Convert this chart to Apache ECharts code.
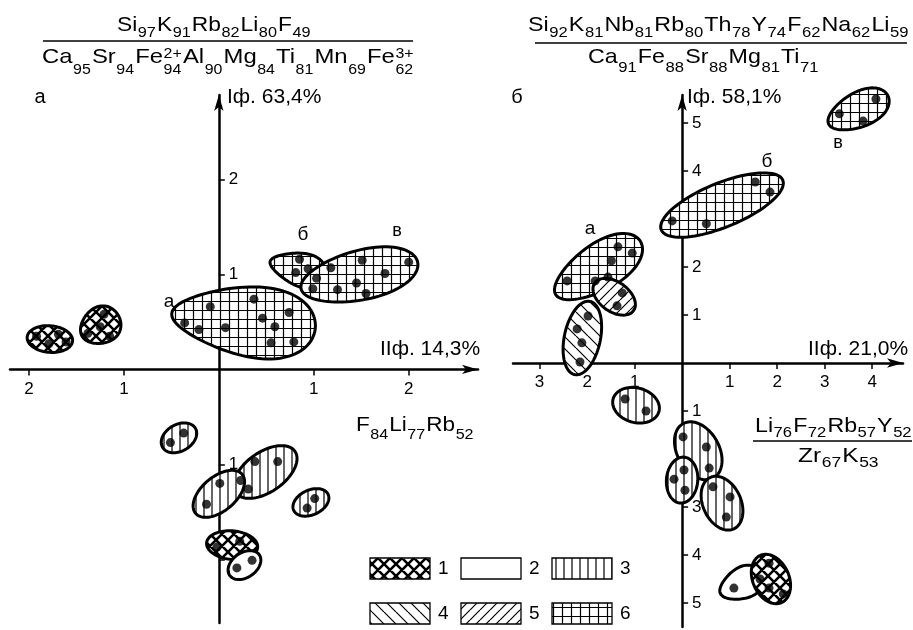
<!DOCTYPE html>
<html>
<head>
<meta charset="utf-8">
<script src="https://cdn.jsdelivr.net/npm/echarts@6/dist/echarts.min.js"></script>
<style>
  html, body { margin: 0; padding: 0; background: #fff; }
  #chart { width: 913px; height: 630px; }
</style>
</head>
<body>
<div id="chart"></div>
<script>
// группы: [центр x, центр y, полуось a, полуось b, угол°, сужение] в единицах факторов
const leftEnvelopes = [
  [-1.78, 0.32, 0.24, 0.14, -5, 0],
  [-1.25, 0.46, 0.22, 0.19, 30, 0.15],
  [0.26, 0.51, 0.76, 0.36, -6, 0.3],
  [0.83, 1.06, 0.30, 0.17, -15, 0.35],
  [1.48, 0.99, 0.63, 0.26, 13, 0.1],
  [-0.42, -0.72, 0.20, 0.14, 30, 0],
  [0.49, -1.08, 0.38, 0.21, 35, 0],
  [0.00, -1.31, 0.32, 0.18, 40, 0],
  [0.97, -1.40, 0.20, 0.13, 25, 0],
  [0.14, -1.85, 0.27, 0.15, -5, 0],
  [0.27, -2.06, 0.19, 0.13, 35, 0]
]
const leftKinds = [1, 1, 6, 6, 6, 3, 3, 3, 3, 1, 2]
const leftPoints = [
  [-1.92, 0.35], [-1.79, 0.27], [-1.69, 0.37], [-1.61, 0.29],
  [-1.38, 0.38], [-1.25, 0.45], [-1.15, 0.35], [-1.21, 0.58],
  [-0.36, 0.49], [-0.21, 0.42], [-0.09, 0.66], [0.07, 0.44], [0.37, 0.74],
  [0.46, 0.54], [0.59, 0.45], [0.74, 0.60], [0.55, 0.28], [0.79, 0.29],
  [0.85, 1.16], [0.81, 1.02], [0.94, 1.06], [1.03, 0.96],
  [1.18, 1.07], [1.51, 1.15], [1.75, 1.01], [2.00, 1.13], [1.45, 0.91],
  [1.55, 0.80], [1.25, 0.84], [0.99, 0.85],
  [-0.51, -0.77], [-0.37, -0.67],
  [0.38, -0.97], [0.62, -0.97], [0.23, -1.17], [0.31, -1.26],
  [0.01, -1.20], [-0.13, -1.42],
  [0.93, -1.46], [1.01, -1.36],
  [-0.02, -1.87], [0.22, -1.81],
  [0.19, -2.09], [0.35, -2.01]
]

const rightEnvelopes = [
  [-1.77, 1.98, 1.05, 0.48, 32, 0.15],
  [-1.43, 1.38, 0.50, 0.31, -35, 0],
  [-2.10, 0.52, 0.78, 0.38, 78, 0],
  [0.84, 3.29, 1.38, 0.46, 22, 0],
  [3.71, 5.27, 0.69, 0.36, 25, 0.15],
  [-0.97, -0.88, 0.50, 0.36, -15, 0],
  [0.34, -1.83, 0.65, 0.44, -60, 0],
  [0.00, -2.44, 0.48, 0.33, 85, 0],
  [0.84, -2.92, 0.59, 0.40, -65, 0],
  [1.24, -4.60, 0.48, 0.32, 25, 0.25],
  [1.87, -4.50, 0.54, 0.38, -65, 0]
]
const rightKinds = [6, 5, 4, 6, 6, 3, 3, 3, 3, 2, 1]
const rightPoints = [
  [-1.35, 2.42], [-1.05, 2.29], [-1.49, 2.13], [-2.42, 1.71], [-1.83, 1.71], [-1.56, 1.79],
  [-1.26, 1.46], [-1.37, 1.19],
  [-1.98, 0.98], [-2.21, 0.71], [-2.11, 0.42], [-2.15, 0.02],
  [-0.21, 2.96], [0.51, 2.90], [1.54, 3.77], [1.85, 3.56],
  [3.31, 5.19], [3.81, 5.04], [4.08, 5.50],
  [-1.20, -0.75], [-0.76, -1.00],
  [0.02, -1.54], [0.51, -1.75], [0.57, -2.19],
  [-0.17, -2.42], [0.06, -2.65], [0.04, -2.23],
  [0.65, -2.58], [1.01, -2.79], [0.93, -3.21],
  [1.09, -4.69],
  [1.83, -4.17], [1.64, -4.50], [1.83, -4.69], [2.13, -4.81]
]

const leftXTicks = [-2, -1, 1, 2]
const leftYTicks = [-2, -1, 1, 2]
const leftYLabels = [-1, 1, 2]
const rightXTicks = [-3, -2, -1, 1, 2, 3, 4]
const rightYTicks = [-5, -4, -3, -2, -1, 1, 2, 3, 4, 5]
const rightYLabels = [-5, -4, -3, -1, 1, 2, 4, 5]

const legendKinds = [1, 2, 3, 4, 5, 6]

const FONT = '"Liberation Sans", Arial, sans-serif'

// штриховки
function tile(kind) {
  if (kind === 2) return '#fff'
  var s = { 1: 12, 3: 8, 4: 12, 5: 10, 6: 9 }[kind]
  var c = document.createElement('canvas')
  c.width = s; c.height = s
  var g = c.getContext('2d')
  g.fillStyle = '#fff'; g.fillRect(0, 0, s, s)
  g.strokeStyle = '#000'; g.lineWidth = kind === 1 ? 2.6 : 1.2
  g.beginPath()
  if (kind === 3 || kind === 6) { g.moveTo(s / 2, 0); g.lineTo(s / 2, s) }
  if (kind === 6) { g.moveTo(0, s / 2); g.lineTo(s, s / 2) }
  var k
  if (kind === 1 || kind === 4) for (k = -s; k <= s; k += s) { g.moveTo(k, 0); g.lineTo(k + s, s) }
  if (kind === 1 || kind === 5) for (k = -s; k <= s; k += s) { g.moveTo(k + s, 0); g.lineTo(k, s) }
  g.stroke()
  return { image: c, repeat: 'repeat' }
}
var fills = {}
legendKinds.forEach(function (k) { fills[k] = tile(k) })

function renderEnvelope(params, api) {
  var cx = api.value(0), cy = api.value(1), rx = api.value(2), ry = api.value(3)
  var a = api.value(4) * Math.PI / 180, egg = api.value(5)
  var pts = []
  for (var i = 0; i < 90; i++) {
    var t = i / 90 * 2 * Math.PI
    // сужение: один конец острее другого
    var dx = rx * Math.cos(t), dy = ry * Math.sin(t) * (1 + egg * Math.cos(t))
    pts.push(api.coord([cx + dx * Math.cos(a) - dy * Math.sin(a), cy + dx * Math.sin(a) + dy * Math.cos(a)]))
  }
  return {
    type: 'polygon',
    shape: { points: pts },
    style: { fill: fills[api.value(6)], stroke: '#000', lineWidth: 3 }
  }
}

// текст
var mctx = document.createElement('canvas').getContext('2d')
function textWidth(s, size) {
  mctx.font = size + 'px ' + FONT
  return mctx.measureText(s).width
}
function txt(text, x, y, size, align, sx) {
  return {
    type: 'text', x: x, y: y, scaleX: sx || 1, silent: true,
    style: {
      text: text, fontSize: size, fontFamily: FONT, fill: '#000',
      align: align || 'left', textAlign: align || 'left',
      verticalAlign: 'middle', textVerticalAlign: 'middle'
    }
  }
}
// формула: части [символ, нижний индекс, верхний индекс], растянутая от x0 до x1
function formula(parts, x0, x1, base, size, subSize, subDy, supUp) {
  var items = [], x = 0
  parts.forEach(function (p) {
    var wb = textWidth(p[0], size)
    var ws = Math.max(textWidth(p[1] || '', subSize), textWidth(p[2] || '', subSize))
    items.push([p, x, x + wb + 0.5])
    x += wb + ws + 1.5
  })
  var sx = (x1 - x0) / (x - 1.5), els = []
  items.forEach(function (it) {
    var p = it[0]
    els.push(txt(p[0], x0 + it[1] * sx, base - 0.3 * size, size, 'left', sx))
    if (p[1]) els.push(txt(p[1], x0 + it[2] * sx, base + subDy - 0.3 * subSize, subSize, 'left', sx))
    if (p[2]) els.push(txt(p[2], x0 + it[2] * sx, base - supUp - 0.3 * subSize, subSize, 'left', sx))
  })
  return els
}
function hline(x0, x1, y) {
  return { type: 'line', silent: true, shape: { x1: x0, y1: y, x2: x1, y2: y }, style: { stroke: '#000', lineWidth: 1.5 } }
}

var graphics = [].concat(
  formula([['Si', '97'], ['K', '91'], ['Rb', '82'], ['Li', '80'], ['F', '49']], 117, 310, 32, 21, 15, 5, 0),
  [hline(43, 413, 41)],
  formula([['Ca', '95'], ['Sr', '94'], ['Fe', '94', '2+'], ['Al', '90'], ['Mg', '84'], ['Ti', '81'],
    ['Mn', '69'], ['Fe', '62', '3+']], 42, 413, 64, 21, 14, 10, 6),
  formula([['Si', '92'], ['K', '81'], ['Nb', '81'], ['Rb', '80'], ['Th', '78'], ['Y', '74'], ['F', '62'],
    ['Na', '62'], ['Li', '59']], 528, 908, 32, 21, 15, 5, 0),
  [hline(535, 907, 43)],
  formula([['Ca', '91'], ['Fe', '88'], ['Sr', '88'], ['Mg', '81'], ['Ti', '71']], 588, 818, 64, 21, 15, 8, 0),
  formula([['F', '84'], ['Li', '77'], ['Rb', '52']], 356, 473, 432, 21, 15, 7, 0),
  formula([['Li', '76'], ['F', '72'], ['Rb', '57'], ['Y', '52']], 755, 911, 433, 21, 15, 4, 0),
  [hline(753, 912, 441)],
  formula([['Zr', '67'], ['K', '53']], 798, 878, 463, 21, 15, 4, 0),
  [
    txt('Iф. 63,4%', 227, 97, 21), txt('Iф. 58,1%', 687, 97, 21),
    txt('IIф. 14,3%', 380, 349, 21), txt('IIф. 21,0%', 808, 349, 21),
    txt('а', 40, 97, 20, 'center'), txt('б', 517, 97, 20, 'center'),
    txt('а', 169, 302, 19, 'center'), txt('б', 303, 235, 19, 'center'), txt('в', 397, 231, 18, 'center'),
    txt('а', 590, 229, 19, 'center'), txt('б', 767, 162, 19, 'center'), txt('в', 838, 143, 18, 'center')
  ]
)
// условные обозначения
legendKinds.forEach(function (k, i) {
  var col = i % 3, row = Math.floor(i / 3)
  var x = 370 + col * 91, y = 558 + row * 45
  graphics.push({
    type: 'rect', silent: true, shape: { x: x, y: y, width: 60, height: 21 },
    style: { fill: fills[k], stroke: '#000', lineWidth: 1.3 }
  })
  graphics.push(txt(String(k), x + 68, y + 11, 19))
})

// оси проходят через ноль: сдвигаем их внутрь сетки
const grids = [
  { left: 10, top: 95, width: 468, height: 528, xr: [-2.2, 2.73], yr: [-2.67, 2.89] },
  { left: 513, top: 95, width: 390, height: 532, xr: [-3.56, 4.65], yr: [-5.5, 5.583] }
]
function axis(g, gi, isY, ticks, labels) {
  var r = isY ? g.yr : g.xr
  var size = isY ? g.width : g.height
  var other = isY ? g.xr : g.yr
  return {
    type: 'value', gridIndex: gi, min: r[0], max: r[1],
    position: isY ? 'left' : 'bottom',
    offset: -(0 - other[0]) / (other[1] - other[0]) * size,
    splitLine: { show: false },
    axisLine: {
      onZero: false, symbol: ['none', 'arrow'], symbolSize: [7, 16],
      lineStyle: { color: '#000', width: 2.5 }
    },
    axisTick: { customValues: ticks, inside: isY, length: 6, lineStyle: { color: '#000', width: 1.5 } },
    axisLabel: {
      customValues: labels, inside: isY, margin: isY ? 10 : 11,
      color: '#000', fontSize: 17, fontFamily: FONT,
      formatter: function (v) { return String(Math.abs(v)) }
    }
  }
}

var chart = echarts.init(document.getElementById('chart'))
chart.setOption({
  animation: false,
  backgroundColor: '#fff',
  grid: grids.map(function (g) {
    return { left: g.left, top: g.top, width: g.width, height: g.height, outerBoundsMode: 'none', containLabel: false }
  }),
  xAxis: [
    axis(grids[0], 0, false, leftXTicks, leftXTicks),
    axis(grids[1], 1, false, rightXTicks, rightXTicks)
  ],
  yAxis: [
    axis(grids[0], 0, true, leftYTicks, leftYLabels),
    axis(grids[1], 1, true, rightYTicks, rightYLabels)
  ],
  series: [
    {
      type: 'custom', xAxisIndex: 0, yAxisIndex: 0, renderItem: renderEnvelope, silent: true,
      data: leftEnvelopes.map(function (e, i) { return e.concat([leftKinds[i]]) })
    },
    {
      type: 'custom', xAxisIndex: 1, yAxisIndex: 1, renderItem: renderEnvelope, silent: true,
      data: rightEnvelopes.map(function (e, i) { return e.concat([rightKinds[i]]) })
    },
    {
      type: 'scatter', xAxisIndex: 0, yAxisIndex: 0, symbolSize: 9, silent: true,
      itemStyle: { color: '#000' }, data: leftPoints
    },
    {
      type: 'scatter', xAxisIndex: 1, yAxisIndex: 1, symbolSize: 9, silent: true,
      itemStyle: { color: '#000' }, data: rightPoints
    }
  ],
  graphic: { elements: graphics }
})
</script>
</body>
</html>
